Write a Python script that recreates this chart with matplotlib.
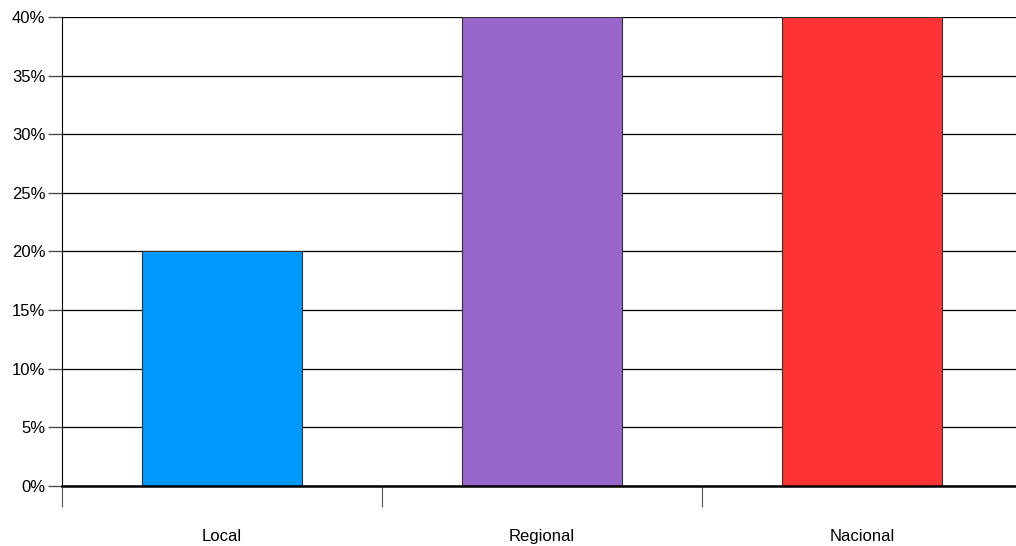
import matplotlib
matplotlib.use("Agg")
import matplotlib.pyplot as plt
from matplotlib.ticker import FixedLocator

# share of responses per scope
categories = ["Local", "Regional", "Nacional"]
values = [20, 40, 40]
colors = ["#0099ff", "#9966cc", "#ff3333"]
yticks = [0, 5, 10, 15, 20, 25, 30, 35, 40]

plt.rcParams['font.family'] = ['Liberation Sans', 'DejaVu Sans']

fig = plt.figure(figsize=(10.16, 5.46), dpi=100)
ax = fig.add_axes([62 / 1016, 1 - 486 / 546, 960 / 1016, 469 / 546])

x = list(range(len(categories)))
ax.bar(x, values, width=0.5, color=colors, edgecolor="#333333", linewidth=0.8, zorder=3)

ax.set_xlim(-0.5, 2.5)
ax.set_ylim(0, 40)

# horizontal grid
ax.set_yticks(yticks)
ax.set_yticklabels([f"{v}%" for v in yticks])
ax.yaxis.grid(True, color="black", linewidth=0.9, zorder=0)
ax.tick_params(axis="y", length=10, width=0.9, color="#444444", pad=2, labelsize=12)

# category boundaries as major ticks, names as minor ticks
ax.xaxis.set_major_locator(FixedLocator([-0.5, 0.5, 1.5]))
ax.xaxis.set_major_formatter(plt.NullFormatter())
ax.xaxis.set_minor_locator(FixedLocator(x))
ax.set_xticklabels(categories, minor=True)
ax.tick_params(axis="x", which="major", length=15, width=0.8, color="#555555")
ax.tick_params(axis="x", which="minor", length=0, pad=31, labelsize=12)

for s in ["top", "right"]:
    ax.spines[s].set_visible(False)
ax.spines["left"].set_linewidth(0.8)
ax.spines["bottom"].set_linewidth(1.8)
ax.spines["bottom"].set_zorder(4)

fig.savefig("out.png", dpi=100)
